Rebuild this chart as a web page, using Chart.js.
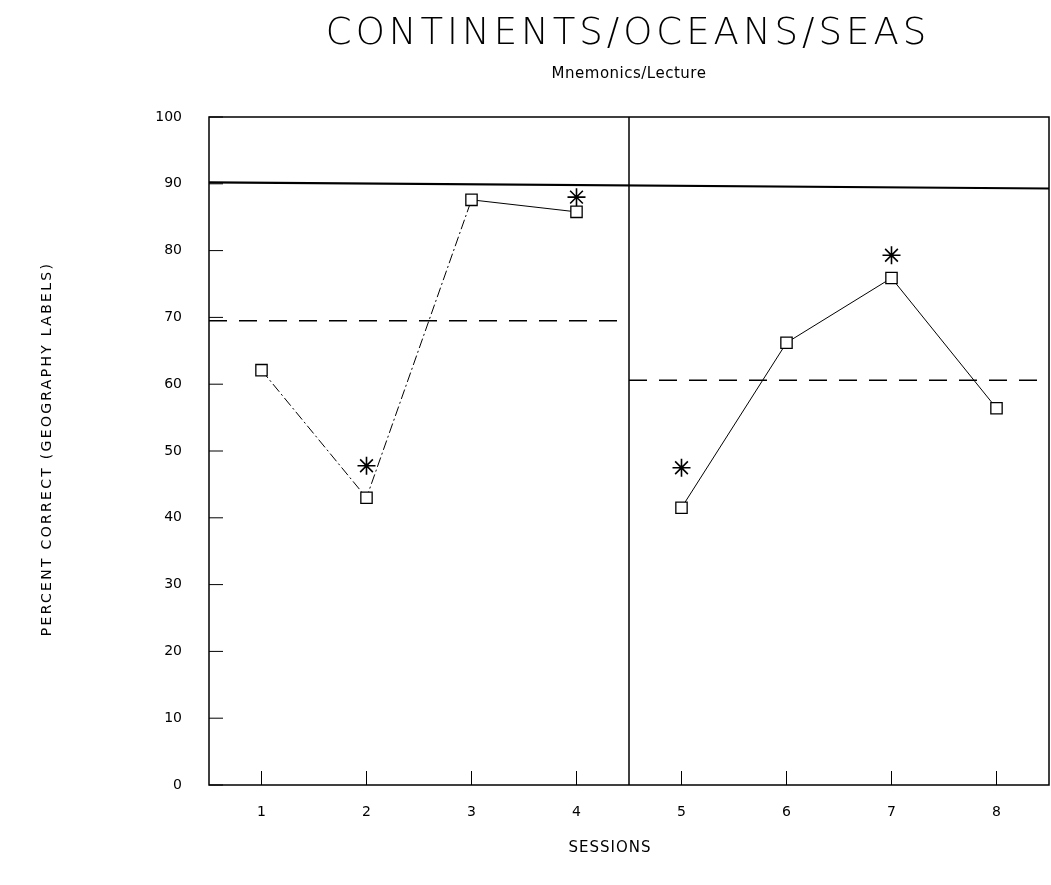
<!DOCTYPE html>
<html>
<head>
<meta charset="utf-8">
<script src="https://cdn.jsdelivr.net/npm/chart.js@4"></script>
<style>
  html, body { margin: 0; padding: 0; background: #fff; overflow: hidden; }
  canvas { display: block; }
</style>
</head>
<body>
<canvas id="myChart" width="1051" height="885"></canvas>
<script>
// data
var sessions = [1, 2, 3, 4, 5, 6, 7, 8];
var phase1Sessions = [1, 2, 3, 4];
var phase2Sessions = [5, 6, 7, 8];
var phase1Scores = [62.1, 43.0, 87.6, 85.8];
var phase2Scores = [41.5, 66.2, 75.9, 56.4];
var starSessions = [2, 4, 5, 7];
var starScores = [47.8, 88.0, 47.5, 79.3];
var phase1Mean = 69.5;
var phase2Mean = 60.6;
var criterion = [90.2, 89.3];
var phaseChange = 4.5;
var yTicks = [0, 10, 20, 30, 40, 50, 60, 70, 80, 90, 100];

function pts(xs, ys) {
    return xs.map(function (x, i) { return { x: x, y: ys[i] }; });
}

var font = 'DejaVu Sans';

// titles (need letter spacing), inward tick marks and frame
var frame = {
    id: 'frame',
    afterDatasetsDraw: function (chart) {
        var c = chart.ctx, a = chart.chartArea;
        var xs = chart.scales.x, ys = chart.scales.y;
        c.save();
        c.strokeStyle = '#000';
        c.lineWidth = 1.5;
        c.strokeRect(a.left, a.top, a.right - a.left, a.bottom - a.top);
        c.lineWidth = 1;
        yTicks.forEach(function (v) {
            var y = ys.getPixelForValue(v);
            c.beginPath(); c.moveTo(a.left, y); c.lineTo(a.left + 14, y); c.stroke();
        });
        sessions.forEach(function (v) {
            var x = xs.getPixelForValue(v);
            c.beginPath(); c.moveTo(x, a.bottom); c.lineTo(x, a.bottom - 14); c.stroke();
        });

        c.fillStyle = '#000';
        c.textAlign = 'center';
        c.textBaseline = 'middle';
        c.letterSpacing = '4px';
        c.font = '200 37px "DejaVu Sans"';
        c.fillText('CONTINENTS/OCEANS/SEAS', 628, 34);
        c.letterSpacing = '0.5px';
        c.font = '15px "DejaVu Sans"';
        c.fillText('Mnemonics/Lecture', 629, 74);
        c.letterSpacing = '1px';
        c.font = '15px "DejaVu Sans"';
        c.fillText('SESSIONS', 610, 848);
        c.translate(47, 449);
        c.rotate(-Math.PI / 2);
        c.letterSpacing = '2.3px';
        c.font = '14px "DejaVu Sans"';
        c.fillText('PERCENT CORRECT (GEOGRAPHY LABELS)', 0, 0);
        c.restore();
    }
};

var ctx = document.getElementById('myChart').getContext('2d');
var myChart = new Chart(ctx, {
    type: 'line',
    data: {
        datasets: [{
            data: pts(phase1Sessions, phase1Scores),
            borderColor: '#000',
            borderWidth: 1,
            segment: {
                borderDash: function (s) { return s.p0DataIndex < 2 ? [10, 3, 2, 3] : undefined; }
            },
            pointStyle: 'rect',
            pointRadius: 8,
            pointBackgroundColor: '#fff',
            pointBorderColor: '#000',
            pointBorderWidth: 1.3
        }, {
            data: pts(phase2Sessions, phase2Scores),
            borderColor: '#000',
            borderWidth: 1,
            pointStyle: 'rect',
            pointRadius: 8,
            pointBackgroundColor: '#fff',
            pointBorderColor: '#000',
            pointBorderWidth: 1.3
        }, {
            data: pts(starSessions, starScores),
            showLine: false,
            pointStyle: 'star',
            pointRadius: 9,
            pointBorderColor: '#000',
            pointBorderWidth: 1.6
        }, {
            data: [{ x: 0.5, y: criterion[0] }, { x: 8.5, y: criterion[1] }],
            borderColor: '#000',
            borderWidth: 2.2,
            pointRadius: 0
        }, {
            data: [{ x: 0.5, y: phase1Mean }, { x: phaseChange, y: phase1Mean }],
            borderColor: '#000',
            borderWidth: 1.5,
            borderDash: [18, 12],
            pointRadius: 0
        }, {
            data: [{ x: phaseChange, y: phase2Mean }, { x: 8.5, y: phase2Mean }],
            borderColor: '#000',
            borderWidth: 1.5,
            borderDash: [18, 12],
            pointRadius: 0
        }, {
            data: [{ x: phaseChange, y: 0 }, { x: phaseChange, y: 100 }],
            borderColor: '#000',
            borderWidth: 1.5,
            pointRadius: 0
        }]
    },
    options: {
        responsive: false,
        animation: false,
        layout: { autoPadding: false, padding: { top: 117, left: 30, right: 2, bottom: 0 } },
        plugins: {
            legend: { display: false },
            tooltip: { enabled: false }
        },
        scales: {
            x: {
                type: 'linear',
                min: 0.5,
                max: 8.5,
                afterBuildTicks: function (s) {
                    s.ticks = sessions.map(function (v) { return { value: v }; });
                },
                afterFit: function (s) { s.height = 100; },
                grid: { display: false },
                border: { display: false },
                ticks: { color: '#000', padding: 11, font: { family: font, size: 14 } }
            },
            y: {
                min: 0,
                max: 100,
                afterBuildTicks: function (s) {
                    s.ticks = yTicks.map(function (v) { return { value: v }; });
                },
                afterFit: function (s) { s.width = 179; },
                grid: { display: false },
                border: { display: false },
                ticks: { color: '#000', padding: 19, font: { family: font, size: 14 } }
            }
        }
    },
    plugins: [frame]
});
</script>
</body>
</html>
